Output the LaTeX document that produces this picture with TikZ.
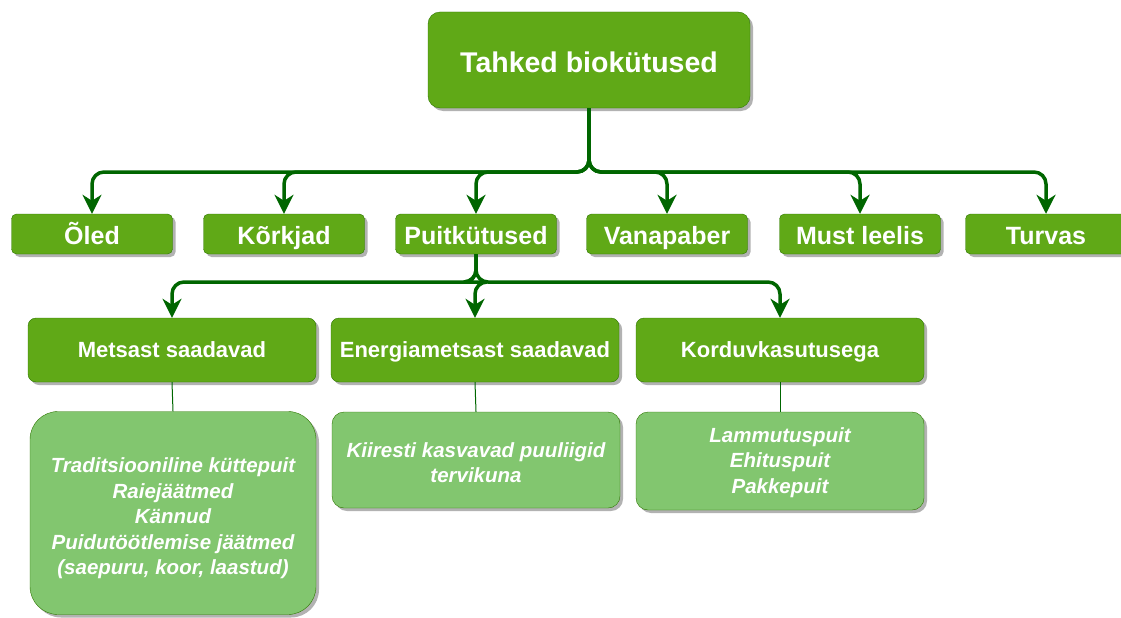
\documentclass[tikz,border=0pt]{standalone}
\usepackage{fontspec}
\setmainfont{Liberation Sans}
\usetikzlibrary{arrows.meta,shadows}

\definecolor{darkbox}{HTML}{60A917}
\definecolor{darkline}{HTML}{2D7600}
\definecolor{lightbox}{HTML}{82C66F}
\definecolor{edgegreen}{HTML}{006600}

\begin{document}
\begin{tikzpicture}[x=1pt, y=-1pt,
    box/.style={draw=darkline, fill=darkbox, text=white, font=\bfseries, inner sep=0pt,
        drop shadow={shadow xshift=3pt, shadow yshift=-3pt, opacity=0.3, fill=black}},
    topbox/.style={box, text height=30pt, text depth=6pt, rounded corners=12pt,
        minimum width=322pt, minimum height=96pt,
        font=\bfseries\fontsize{28.5}{32}\selectfont},
    kindbox/.style={box, text height=26pt, text depth=5pt, rounded corners=5pt,
        minimum width=161pt, minimum height=40pt,
        font=\bfseries\fontsize{25}{28}\selectfont},
    woodbox/.style={box, text height=20pt, text depth=4.5pt, rounded corners=8pt,
        minimum width=288pt, minimum height=64pt,
        font=\bfseries\fontsize{22}{26}\selectfont},
    listbox/.style={box, fill=lightbox, rounded corners=12pt, minimum width=288pt, align=center,
        font=\bfseries\itshape\fontsize{20.5}{25.5}\selectfont},
    arr/.style={draw=edgegreen, line width=3.5pt, rounded corners=12pt,
        -{Stealth[length=19pt, width=19pt, inset=6pt]}},
    thin/.style={draw=edgegreen, line width=1pt}]
    \useasboundingbox (0, 0) rectangle (1121, 618);

    \node[topbox] (root) at (589, 60) {Tahked biokütused};

    \node[kindbox] (oled) at (92, 234) {Õled};
    \node[kindbox] (korkjad) at (284, 234) {Kõrkjad};
    \node[kindbox] (puit) at (476, 234) {Puitkütused};
    \node[kindbox] (vanapaber) at (667, 234) {Vanapaber};
    \node[kindbox] (leelis) at (860, 234) {Must leelis};
    \node[kindbox] (turvas) at (1046, 234) {Turvas};

    \node[woodbox] (mets) at (172, 350) {Metsast saadavad};
    \node[woodbox] (energia) at (475, 350) {Energiametsast saadavad};
    \node[woodbox] (kordus) at (780, 350) {Korduvkasutusega};

    \node[listbox, minimum width=286pt, minimum height=203pt, rounded corners=28pt]
        (metslist) at (173, 513) {\rule{0pt}{26pt}Traditsiooniline küttepuit\\Raiejäätmed\\Kännud\\
        Puidutöötlemise jäätmed\\(saepuru, koor, laastud)};
    \node[listbox, minimum height=96pt] (energialist) at (476, 460)
        {\rule{0pt}{20pt}Kiiresti kasvavad puuliigid\\tervikuna};
    \node[listbox, minimum height=98pt] (korduslist) at (780, 461)
        {\rule{0pt}{18pt}Lammutuspuit\\Ehituspuit\\Pakkepuit};

    % branching points
    \coordinate (topbus) at (589, 172);
    \coordinate (midbus) at (476, 282);

    \foreach \n in {oled, korkjad, puit, vanapaber, leelis, turvas}
        \draw[arr] (root.south) -- (topbus) -| (\n.north);
    \foreach \n in {mets, energia, kordus}
        \draw[arr] (puit.south) -- (midbus) -| (\n.north);

    \draw[thin] (mets.south) -- (metslist.north);
    \draw[thin] (energia.south) -- (energialist.north);
    \draw[thin] (kordus.south) -- (korduslist.north);
\end{tikzpicture}
\end{document}
